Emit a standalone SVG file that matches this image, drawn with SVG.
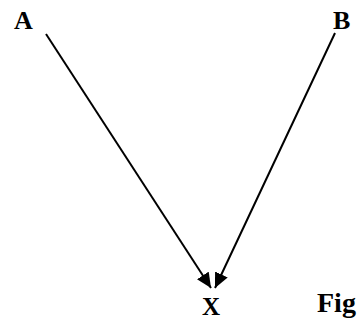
<svg xmlns="http://www.w3.org/2000/svg" width="357" height="320" viewBox="0 0 357 320">
<style>
.lbl{font-family:"Liberation Serif","Times New Roman",serif;font-weight:bold;fill:#000}
.edge{stroke:#000;stroke-width:2;fill:none}
</style>
<defs>
<marker id="ah" markerUnits="userSpaceOnUse" markerWidth="16" markerHeight="14" refX="15" refY="7" orient="auto">
<path d="M0,0 L15,7 L0,14 Z" fill="#000"/>
</marker>
</defs>
<rect width="357" height="320" fill="#fff"/>
<g id="connectors">
<line class="edge" x1="46" y1="34" x2="211" y2="288" marker-end="url(#ah)"/>
<line class="edge" x1="335" y1="33" x2="215" y2="288" marker-end="url(#ah)"/>
</g>
<g id="A"><text class="lbl" x="14" y="29" font-size="26">A</text></g>
<g id="B"><text class="lbl" x="333" y="29" font-size="26">B</text></g>
<g id="X"><text class="lbl" x="202" y="315" font-size="25">X</text></g>
<g id="Fig"><text class="lbl" x="317" y="312" font-size="28">Fig</text></g>
</svg>
